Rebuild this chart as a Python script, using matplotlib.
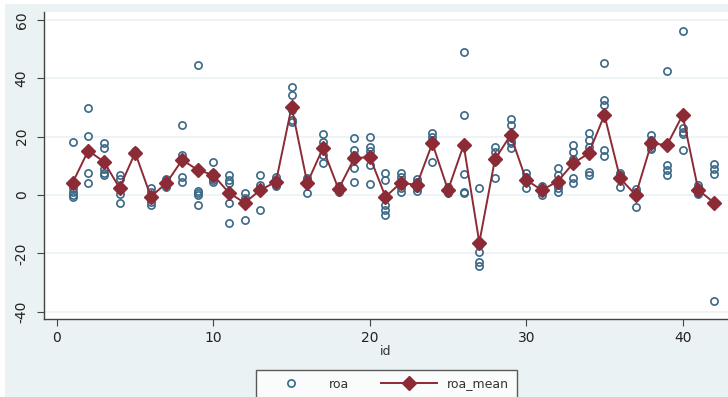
import numpy as np
import matplotlib
matplotlib.use("Agg")
import matplotlib.pyplot as plt
from matplotlib.patches import Rectangle

# firm ids and the yearly roa observations for each firm
ids = list(range(1, 43))
roa = [
    [18.3, 2.5, 1.1, 0.0, -0.6],
    [29.8, 20.2, 14.3, 7.5, 4.2],
    [17.8, 16.0, 9.0, 7.5, 6.7],
    [6.8, 5.5, 2.0, 0.4, -2.7],
    [15.0, 14.8, 14.5, 14.2, 14.0],
    [2.4, 1.0, -0.6, -2.4, -3.4],
    [5.5, 4.8, 4.0, 3.5, 2.7],
    [24.0, 13.8, 12.0, 6.2, 4.5],
    [44.5, 1.5, 0.7, 0.0, -3.4],
    [11.4, 7.5, 5.8, 5.0, 4.3],
    [6.8, 5.0, 4.1, -2.7, -9.7],
    [0.7, -1.0, -2.0, -2.6, -8.6],
    [6.8, 3.5, 2.0, 1.3, -5.1],
    [6.0, 5.0, 4.5, 3.8, 3.2],
    [37.1, 34.2, 29.0, 25.7, 25.0],
    [5.8, 5.5, 4.8, 3.7, 0.7],
    [20.9, 18.3, 16.1, 13.7, 11.0],
    [3.0, 2.5, 2.0, 1.5, 1.0],
    [19.5, 15.4, 13.8, 9.2, 4.6],
    [20.0, 16.5, 14.9, 10.3, 3.8],
    [7.5, 5.1, -3.4, -5.1, -6.8],
    [7.6, 6.3, 3.5, 2.5, 1.1],
    [5.5, 4.5, 3.2, 2.3, 1.5],
    [21.3, 20.0, 18.5, 17.3, 11.4],
    [2.8, 2.2, 1.7, 1.2, 0.6],
    [49.0, 27.4, 7.2, 1.1, 0.8],
    [2.3, -17.1, -19.4, -22.8, -24.5],
    [16.5, 14.8, 12.5, 11.5, 5.7],
    [26.2, 24.0, 18.5, 17.8, 16.0],
    [7.4, 6.0, 5.3, 4.5, 2.3],
    [3.0, 2.2, 1.6, 1.0, 0.0],
    [9.1, 6.8, 3.5, 2.5, 1.1],
    [17.1, 14.8, 12.2, 5.7, 4.2],
    [21.1, 19.0, 16.6, 8.0, 6.8],
    [45.1, 32.5, 30.8, 15.4, 13.2],
    [7.4, 6.8, 6.0, 5.5, 2.8],
    [2.0, 1.0, 0.5, 0.5, -4.0],
    [20.5, 18.8, 17.5, 16.0, 15.7],
    [42.5, 17.3, 10.3, 8.6, 6.8],
    [56.3, 22.8, 21.7, 20.8, 15.4],
    [3.4, 2.5, 1.5, 0.7, 0.4],
    [10.6, 8.8, 7.2, -36.5],
]
roa_mean = [4.2, 15.2, 11.4, 2.4, 14.5, -0.6, 4.1, 12.0, 8.6, 6.8,
            0.7, -2.7, 1.7, 4.5, 30.2, 4.1, 16.0, 2.0, 12.5, 13.1,
            -0.6, 4.2, 3.4, 17.7, 1.7, 17.1, -16.3, 12.2, 20.5, 5.1,
            1.7, 4.6, 10.8, 14.3, 27.4, 5.7, 0.0, 17.7, 17.1, 27.4,
            1.7, -2.6]
y_ticks = [-40, -20, 0, 20, 40, 60]
x_ticks = [0, 10, 20, 30, 40]

region = "#eaf2f3"
navy = "#3a6886"
maroon = "#8c2a36"

fig = plt.figure(figsize=(7.28, 3.97), dpi=100)
fig.patch.set_facecolor("white")
# stata-like graph region
fig.patches.append(Rectangle((5 / 728, 0), 1, 1 - 4 / 397, transform=fig.transFigure,
                             facecolor=region, edgecolor="none", zorder=-10))

ax = fig.add_axes([44 / 728, 78 / 397, 684 / 728, 307 / 397])
ax.set_facecolor("white")

# flatten the panel for plotting
px = [i for i, vals in zip(ids, roa) for _ in vals]
py = [v for vals in roa for v in vals]
ax.plot(px, py, linestyle="none", marker="o", markersize=5.2, markerfacecolor="none",
        markeredgecolor=navy, markeredgewidth=1.2, label="roa", zorder=3)
ax.plot(ids, roa_mean, color=maroon, linewidth=1.4, marker="D", markersize=7,
        markerfacecolor=maroon, markeredgecolor=maroon, label="roa_mean", zorder=4)

ax.set_xlim(-0.83, 42.9)
ax.set_ylim(-42.5, 62.7)
ax.set_yticks(y_ticks)
ax.set_xticks(x_ticks)
ax.set_yticklabels([str(t) for t in y_ticks], rotation=90, va="center")
ax.yaxis.grid(True, color=region, linewidth=1.2)
ax.set_axisbelow(True)
for s in ["top", "right"]:
    ax.spines[s].set_visible(False)
for s in ["left", "bottom"]:
    ax.spines[s].set_color("#444444")
    ax.spines[s].set_linewidth(1.0)
ax.tick_params(axis="both", direction="out", length=5, color="#444444",
               labelsize=10, labelcolor="#222222")
ax.tick_params(axis="y", pad=6)
ax.set_xlabel("id", fontsize=9, color="#333333", labelpad=0)

fig.legend(loc="upper center", bbox_to_anchor=(386 / 728, 1 - 364 / 397), ncol=2,
           frameon=True, fancybox=False, edgecolor="#333333", facecolor="white",
           fontsize=9, handlelength=4.5, columnspacing=2.5, borderpad=0.6,
           labelcolor="#333333")

plt.savefig("out.png", dpi=100)
